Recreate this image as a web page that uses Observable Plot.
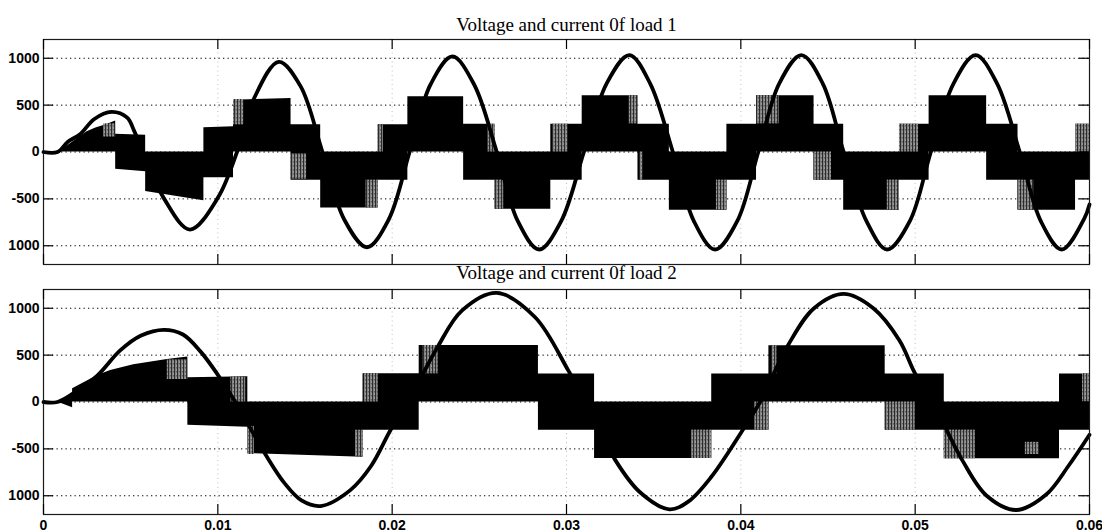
<!DOCTYPE html>
<html><head><meta charset="utf-8">
<script src="https://cdn.jsdelivr.net/npm/d3@7"></script>
<script src="https://cdn.jsdelivr.net/npm/@observablehq/plot@0.6"></script>
<style>
body{margin:0;background:#fff}
#c{width:1102px;height:532px;overflow:hidden}
#c svg{display:block}
</style>
</head><body><div id="c"></div>
<script>
// ---------- axes & titles ----------
const xTicks = [0, 0.01, 0.02, 0.03, 0.04, 0.05, 0.06];
const xTickLabels = ["0", "0.01", "0.02", "0.03", "0.04", "0.05", "0.06"];
const yTicks = [-1000, -500, 0, 500, 1000];
const yTickLabels = ["1000", "-500", "0", "500", "1000"];
const titles = ["Voltage and current 0f load 1", "Voltage and current 0f load 2"];

// ---------- load 1 : voltage (smooth curve) ----------
const v1T = [0, 0.0008, 0.0014, 0.0021, 0.0029, 0.0039, 0.0048, 0.0052, 0.0057, 0.0069, 0.0084, 0.0100, 0.0111, 0.0121, 0.0135, 0.01475, 0.0160, 0.01725, 0.01855, 0.0198, 0.0210, 0.0222, 0.02345, 0.0247, 0.0260, 0.0272, 0.02843, 0.0297, 0.0310, 0.0323, 0.0336, 0.0348, 0.0361, 0.0373, 0.03852, 0.0398, 0.0410, 0.0422, 0.04347, 0.0447, 0.0459, 0.0472, 0.04839, 0.0497, 0.0509, 0.0522, 0.05347, 0.0547, 0.0560, 0.0572, 0.05841, 0.0597, 0.0600];
const v1 = [0, 0, 110, 189, 350, 428, 367, 225, 0, -492, -827, -489, 0, 581, 962, 700, 0, -720, -1016, -720, 0, 720, 1019, 720, 0, -735, -1040, -735, 0, 730, 1034, 730, 0, -735, -1040, -735, 0, 730, 1034, 730, 0, -735, -1040, -735, 0, 730, 1034, 730, 0, -735, -1040, -710, -560];

// ---------- load 1 : switched current band (envelope lo/hi) ----------
const i1T = [0.0008, 0.0014, 0.0020, 0.0025, 0.0030, 0.0036, 0.00414,
  0.00414, 0.00586, 0.00586, 0.0092, 0.0092, 0.0109, 0.0109, 0.0142, 0.0142, 0.0159,
  0.0159, 0.0192, 0.0192, 0.0209, 0.0209, 0.0241, 0.0241, 0.0259, 0.0259, 0.0291,
  0.0291, 0.0309, 0.0309, 0.0341, 0.0341, 0.0359, 0.0359, 0.0392, 0.0392, 0.0409,
  0.0409, 0.0442, 0.0442, 0.0459, 0.0459, 0.0491, 0.0491, 0.0508, 0.0508, 0.0541,
  0.0541, 0.0559, 0.0559, 0.0592, 0.0592, 0.0600];
const i1Lo = [0, 0, 0, 0, 0, 0, 0,
  -185, -210, -420, -520, -275, -275, 0, 0, -300, -300,
  -596, -596, -300, -300, 0, 0, -300, -300, -610, -610,
  -300, -300, 0, 0, -300, -300, -620, -620, -300, -300,
  0, 0, -300, -300, -620, -620, -300, -300, 0, 0,
  -300, -300, -620, -620, -300, -300];
const i1Hi = [0, 70, 150, 215, 255, 290, 330,
  189, 180, 0, 0, 260, 270, 553, 570, 290, 290,
  0, 0, 290, 290, 590, 590, 295, 295, 0, 0,
  296, 296, 600, 600, 296, 296, 0, 0, 296, 296,
  600, 600, 296, 296, 0, 0, 296, 296, 600, 600,
  296, 296, 0, 0, 296, 296];
// lighter (sparser switching) patches, load 1
const g1T0 = [0.00345, 0.0109, 0.0142, 0.0185, 0.0192, 0.0255, 0.0259, 0.0292, 0.0336, 0.0342, 0.0386, 0.0409, 0.0442, 0.0484, 0.0491, 0.0559, 0.0592];
const g1T1 = [0.00414, 0.0115, 0.0151, 0.0192, 0.0195, 0.0259, 0.0264, 0.0301, 0.0341, 0.0344, 0.0392, 0.0422, 0.0452, 0.0491, 0.0502, 0.0568, 0.0600];
const g1Lo = [160, 290, -290, -596, 0, 0, -610, 0, 300, -300, -620, 300, -300, -620, 0, -620, 0];
const g1Hi = [300, 560, -20, -300, 290, 295, -300, 296, 600, 0, -300, 600, 0, -300, 296, -300, 296];

// ---------- load 2 : voltage ----------
const v2T = [0, 0.0008, 0.0020, 0.0031, 0.0044, 0.0056, 0.0069, 0.0080, 0.0090, 0.0100, 0.0110, 0.0127, 0.0138, 0.0148, 0.0159, 0.0176, 0.0188, 0.0199, 0.0209, 0.0226, 0.0240, 0.0260, 0.0282, 0.0301, 0.0311, 0.0328, 0.0342, 0.0359, 0.0370, 0.0383, 0.0401, 0.0411, 0.0427, 0.0442, 0.0459, 0.0476, 0.0491, 0.0500, 0.0510, 0.0527, 0.0541, 0.0558, 0.0575, 0.0588, 0.0600];
const v2 = [0, 0, 130, 284, 550, 709, 770, 720, 540, 290, 0, -549, -860, -1050, -1110, -940, -680, -301, 0, 585, 975, 1164, 904, 337, 0, -620, -960, -1145, -1060, -800, -301, 0, 603, 1000, 1153, 1000, 656, 302, 0, -620, -1000, -1152, -990, -680, -350];

// ---------- load 2 : switched current band ----------
const i2T = [0.0008, 0.00167, 0.00167, 0.0031, 0.00385, 0.00517, 0.0071, 0.00828,
  0.00828, 0.01172, 0.01172, 0.01833, 0.01833, 0.02155, 0.02155, 0.02839,
  0.02839, 0.03161, 0.03161, 0.03833, 0.03833, 0.04161, 0.04161, 0.04828,
  0.04828, 0.05167, 0.05167, 0.05828, 0.05828, 0.0600];
const i2Lo = [0, -60, 0, 0, 0, 0, 0, 0,
  -249, -270, -550, -590, -301, -301, 0, 0,
  -300, -300, -602, -602, -300, -300, 0, 0,
  -300, -300, -605, -605, -300, -300];
const i2Hi = [0, 71, 142, 284, 337, 398, 454, 479,
  259, 270, 0, 0, 302, 302, 603, 603,
  300, 300, 0, 0, 300, 300, 600, 600,
  300, 300, 0, 0, 300, 300];
const g2T0 = [0.0071, 0.01075, 0.01172, 0.0179, 0.01839, 0.02178, 0.03718, 0.0408, 0.04178, 0.04828, 0.05167, 0.05632, 0.0596];
const g2T1 = [0.00828, 0.0116, 0.0121, 0.01833, 0.0192, 0.02264, 0.03833, 0.04161, 0.04207, 0.0500, 0.05345, 0.05713, 0.0600];
const g2Lo = [240, 0, -560, -585, 0, 300, -602, -300, 300, -300, -605, -560, 0];
const g2Hi = [450, 265, -260, -301, 302, 603, -300, 0, 600, 0, -300, -430, 300];

// ---------- drawing ----------
const W = 1102, ML = 43, MR = 13, PH = 225, TICK = 10;
const frameW = W - ML - MR;
const labelFont = {fontFamily: "Liberation Sans, Arial, sans-serif", fontWeight: "bold", fontSize: 14, fill: "black"};

function addHatch(svg, id) {
  const ns = "http://www.w3.org/2000/svg";
  const defs = document.createElementNS(ns, "defs");
  const pat = document.createElementNS(ns, "pattern");
  pat.setAttribute("id", id);
  pat.setAttribute("patternUnits", "userSpaceOnUse");
  pat.setAttribute("width", "3");
  pat.setAttribute("height", "4");
  const bg = document.createElementNS(ns, "rect");
  bg.setAttribute("width", "3"); bg.setAttribute("height", "4"); bg.setAttribute("fill", "#9a9a9a");
  const ln = document.createElementNS(ns, "rect");
  ln.setAttribute("x", "0"); ln.setAttribute("width", "1.2"); ln.setAttribute("height", "4"); ln.setAttribute("fill", "#2a2a2a");
  const dot = document.createElementNS(ns, "rect");
  dot.setAttribute("x", "1.8"); dot.setAttribute("y", "1"); dot.setAttribute("width", "1"); dot.setAttribute("height", "1.5"); dot.setAttribute("fill", "#555");
  pat.appendChild(bg); pat.appendChild(ln); pat.appendChild(dot);
  defs.appendChild(pat);
  svg.insertBefore(defs, svg.firstChild);
  return svg;
}

function panel(o) {
  const marks = [
    Plot.ruleY(yTicks, {y: d => d, stroke: "black", strokeWidth: 1, strokeDasharray: "1.3,3.2"}),
    Plot.ruleX(xTicks.slice(1, -1), {x: d => d, stroke: "black", strokeOpacity: 0.25, strokeDasharray: "1,3.5"}),
    Plot.areaY(o.iT, {x: o.iT, y1: o.iLo, y2: o.iHi, fill: "black", curve: "linear"}),
    Plot.rect(o.gT0, {x1: o.gT0, x2: o.gT1, y1: o.gLo, y2: o.gHi, fill: `url(#${o.hatch})`}),
    Plot.line(o.vT, {x: o.vT, y: o.v, curve: "catmull-rom", stroke: "black", strokeWidth: 3.8, strokeLinejoin: "round"}),
    Plot.frame({stroke: "#1a1a1a", strokeWidth: 1.2}),
    Plot.tickY(yTicks, {y: d => d, insetRight: frameW - TICK, stroke: "black", strokeWidth: 1.2}),
    Plot.tickY(yTicks, {y: d => d, insetLeft: frameW - TICK, stroke: "black", strokeWidth: 1.2}),
    Plot.tickX(xTicks, {x: d => d, insetBottom: PH - TICK, stroke: "black", strokeWidth: 1.2}),
    Plot.tickX(xTicks, {x: d => d, insetTop: PH - TICK, stroke: "black", strokeWidth: 1.2}),
    Plot.axisY({ticks: yTicks, tickFormat: d => yTickLabels[yTicks.indexOf(d)], tickSize: 0, tickPadding: 4, ...labelFont}),
    Plot.text([o.title], {frameAnchor: "top", dy: o.titleDy, lineAnchor: "bottom", text: d => d,
      fontFamily: "Liberation Serif, Times New Roman, serif", fontSize: 19, fill: "black"})
  ];
  if (o.showX) {
    marks.push(Plot.axisX({ticks: xTicks, tickFormat: d => xTickLabels[xTicks.indexOf(d)], tickSize: 0, tickPadding: 6, ...labelFont}));
  }
  const svg = Plot.plot({
    width: W, height: o.height,
    marginLeft: ML, marginRight: MR, marginTop: o.marginTop, marginBottom: o.marginBottom,
    style: {overflow: "visible", background: "white"},
    x: {domain: [0, 0.06], axis: o.showX ? undefined : null},
    y: {domain: [-1200, 1200]},
    marks
  });
  return addHatch(svg, o.hatch);
}

const c = document.getElementById("c");
c.appendChild(panel({title: titles[0], vT: v1T, v: v1, iT: i1T, iLo: i1Lo, iHi: i1Hi, hatch: "hatch1",
  gT0: g1T0, gT1: g1T1, gLo: g1Lo, gHi: g1Hi, height: 266, marginTop: 39, marginBottom: 2, titleDy: -9, showX: false}));
c.appendChild(panel({title: titles[1], vT: v2T, v: v2, iT: i2T, iLo: i2Lo, iHi: i2Hi, hatch: "hatch2",
  gT0: g2T0, gT1: g2T1, gLo: g2Lo, gHi: g2Hi, height: 266, marginTop: 23, marginBottom: 18, titleDy: -11, showX: true}));
</script>
</body></html>
